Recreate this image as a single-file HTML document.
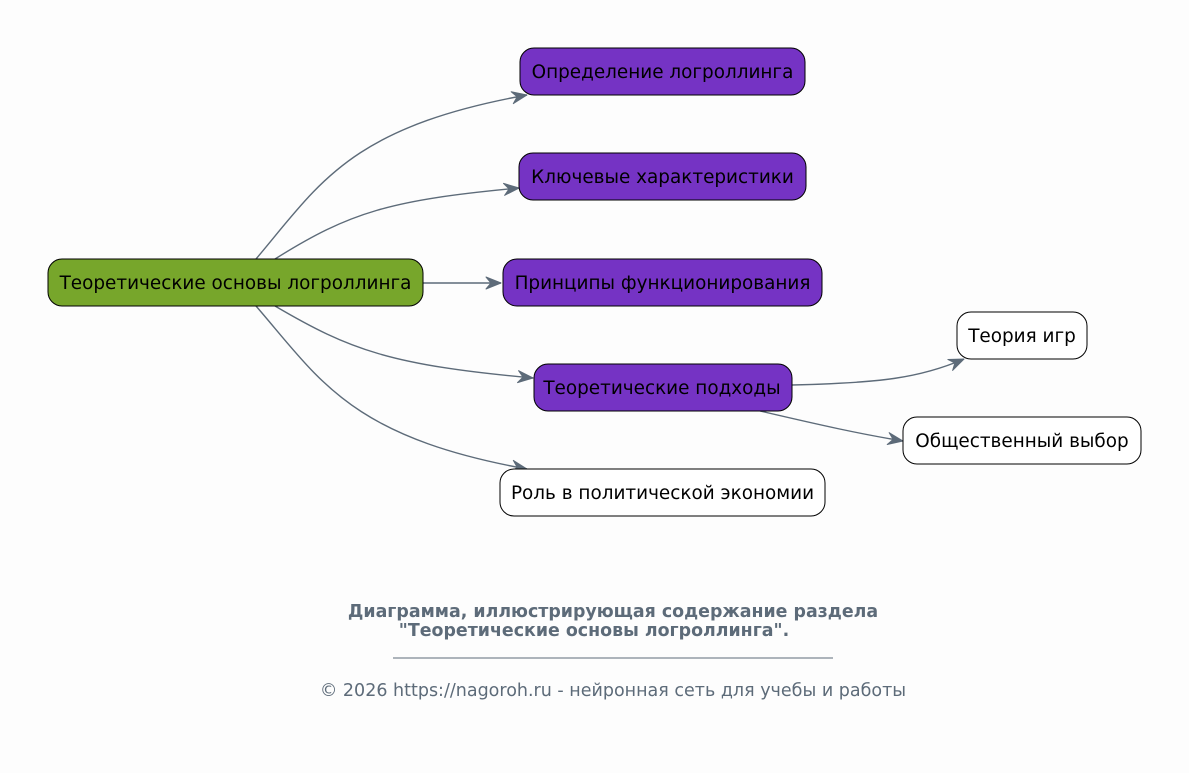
<!DOCTYPE html>
<html><head><meta charset="utf-8"><style>
html,body{margin:0;padding:0;background:#fdfdfd;}
svg{display:block;}
text{font-family:"DejaVu Sans","Liberation Sans",sans-serif;}
</style></head><body>
<svg width="1189" height="773" viewBox="0 0 1189 773" xmlns="http://www.w3.org/2000/svg">
<rect width="1189" height="773" fill="#fdfdfd"/>
<defs>
<marker id="a" markerWidth="20" markerHeight="14" refX="17" refY="7" orient="auto" markerUnits="userSpaceOnUse">
<path d="M2,1 L17,7 L2,13 L7,7 Z" fill="#5d6b79" stroke="#5d6b79" stroke-width="1" stroke-linejoin="round"/>
</marker>
</defs>
<g fill="none" stroke="#5d6b79" stroke-width="1.4" marker-end="url(#a)">
<path d="M256,259 C320,183 350,127 527,95"/>
<path d="M275,259 C350,212 390,200 519,188"/>
<path d="M423,283 L501,283"/>
<path d="M275,306 C350,350 390,365 533,378"/>
<path d="M256,306 C320,380 350,437 527,469"/>
<path d="M792,385 C880,383 920,378 964,359"/>
<path d="M760,411 C820,425 860,434 903,441"/>
</g>
<g stroke="#000" stroke-width="1">
<rect x="48" y="259" width="375" height="47" rx="14" fill="#77a62b"/>
<rect x="520" y="48" width="285" height="47" rx="14" fill="#7533c4"/>
<rect x="519" y="153" width="287" height="47" rx="14" fill="#7533c4"/>
<rect x="503" y="259" width="319" height="47" rx="14" fill="#7533c4"/>
<rect x="534" y="364" width="258" height="47" rx="14" fill="#7533c4"/>
<rect x="500" y="469" width="325" height="47" rx="14" fill="#fff"/>
<rect x="957" y="312" width="130" height="47" rx="14" fill="#fff"/>
<rect x="903" y="417" width="238" height="47" rx="14" fill="#fff"/>
</g>
<g font-size="18.4" fill="#000" text-anchor="middle">
<text x="235.5" y="289">Теоретические основы логроллинга</text>
<text x="662.5" y="78">Определение логроллинга</text>
<text x="662.5" y="183">Ключевые характеристики</text>
<text x="662.5" y="289">Принципы функционирования</text>
<text x="662" y="394">Теоретические подходы</text>
<text x="662.5" y="499">Роль в политической экономии</text>
<text x="1022" y="342">Теория игр</text>
<text x="1022" y="447">Общественный выбор</text>
</g>
<g fill="#5d6b79" text-anchor="middle">
<text x="613" y="617" font-size="17.4" font-weight="bold">Диаграмма, иллюстрирующая содержание раздела</text>
<text x="594" y="636" font-size="17.4" font-weight="bold">"Теоретические основы логроллинга".</text>
<text x="613" y="696" font-size="17.5">© 2026 https://nagoroh.ru - нейронная сеть для учебы и работы</text>
</g>
<line x1="393" y1="658" x2="833" y2="658" stroke="#5d6b79" stroke-width="1"/>
</svg>
</body></html>
